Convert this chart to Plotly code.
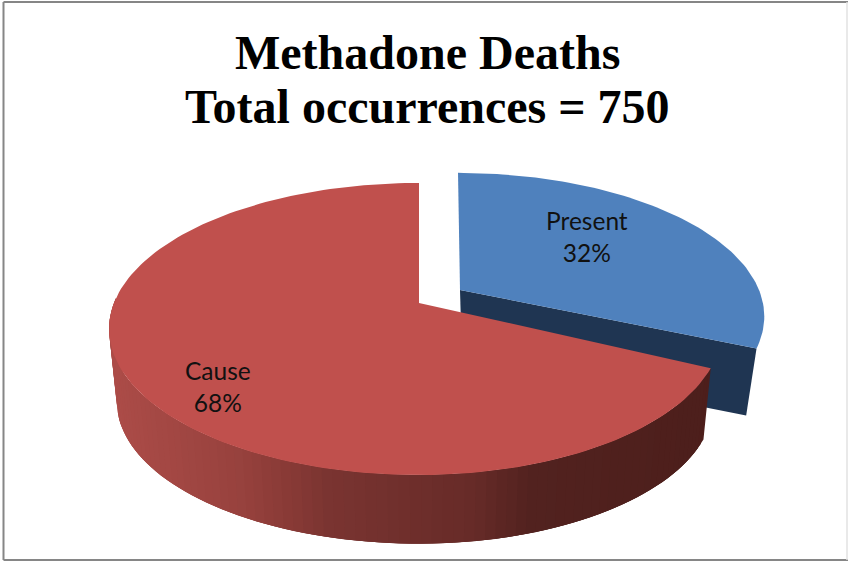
import math
import plotly.graph_objects as go

# --- data ---
categories = ["Present", "Cause"]
shares = [32, 68]
title_lines = ["Methadone Deaths", "Total occurrences = 750"]

# --- projection of the tilted 3-D disc onto the page ---
PERSP = 0.178
def project(theta, apex, Rl, Rr, a, shrink=1.0, drop=0.0, shear=0.0):
    t = math.radians(theta)
    X, Y = math.sin(t), math.cos(t)
    w = 1 + PERSP * Y
    R = Rr if X > 0 else Rl
    x = R * X / w
    y = -a * Y / w
    x += shear * y
    return apex[0] + shrink * x, apex[1] + shrink * y + drop

RED = dict(apex=(419, 303), Rl=305, Rr=298, a=141.4)
BLUE = dict(apex=(460, 290), Rl=299, Rr=299, a=138, shear=0.017)
RED_S, RED_D = 0.975, 73
BLUE_S, BLUE_D = 0.965, 69

split = 360 * shares[0] / sum(shares)
blue_end = split - 2  # the exploded wedge's corner sits slightly earlier in the projection

def steps(a0, a1, n):
    return [a0 + (a1 - a0) * i / n for i in range(n + 1)]

def mix(x):
    stops = [(118, (172, 76, 72)), (240, (152, 66, 62)), (290, (137, 58, 54)),
             (330, (122, 52, 49)), (470, (103, 43, 40)), (530, (82, 34, 31)), (720, (76, 30, 27))]
    for (x0, c0), (x1, c1) in zip(stops, stops[1:]):
        if x <= x1:
            f = max(0, (x - x0) / (x1 - x0))
            return "rgb(%d,%d,%d)" % tuple(round(p + (q - p) * f) for p, q in zip(c0, c1))
    return "rgb(76,30,27)"

fig = go.Figure()

def poly(pts, color):
    xs = [p[0] for p in pts] + [pts[0][0]]
    ys = [p[1] for p in pts] + [pts[0][1]]
    fig.add_trace(go.Scatter(x=xs, y=ys, mode="lines", fill="toself", fillcolor=color,
                             line=dict(color=color, width=0), hoverinfo="skip", showlegend=False))

NAVY = "rgb(31,53,82)"
# blue wedge: cut face
cut_top = project(blue_end, **BLUE)
cut_low = project(blue_end, **BLUE, shrink=BLUE_S, drop=BLUE_D)
bx, by = BLUE["apex"]
poly([(bx, by), cut_top, cut_low, (bx + 2, by + BLUE_D)], NAVY)
# blue top
poly([BLUE["apex"]] + [project(t, **BLUE) for t in steps(0, blue_end, 90)], "#4F81BD")

# red outer wall, drawn strip by strip for the shading; each strip overlaps the next
n = 90
arc = steps(split, 272, n)
for i in range(n):
    seg = arc[i:i + 4]
    poly([project(t, **RED) for t in seg] +
         [project(t, **RED, shrink=RED_S, drop=RED_D) for t in reversed(seg)],
         mix(project((arc[i] + arc[i + 1]) / 2, **RED, shrink=RED_S, drop=RED_D)[0]))
# red top
poly([RED["apex"]] + [project(t, **RED) for t in steps(split, 360, 160)], "#C0504D")

# labels
label_pos = [(587, 236), (218, 386)]
for name, v, (x, y) in zip(categories, shares, label_pos):
    fig.add_annotation(x=x, y=y, text=f"{name}<br>{v}%", showarrow=False,
                       font=dict(family="Lato", size=24.5, color="#111111"))

for line, y in zip(title_lines, (52, 106)):
    fig.add_annotation(x=427, y=y, text=line, showarrow=False,
                       font=dict(family="Liberation Serif", size=48, color="black", weight="bold"))

GREY = "#868686"
shapes = [
    dict(type="line", x0=3.5, y0=2, x1=848, y1=2, line=dict(color=GREY, width=2)),
    dict(type="line", x0=3.5, y0=2, x1=3.5, y1=560, line=dict(color=GREY, width=2)),
    dict(type="line", x0=3.5, y0=560, x1=848, y1=560, line=dict(color=GREY, width=2)),
    dict(type="line", x0=847, y0=2, x1=847, y1=560, line=dict(color="#E2E2E2", width=1.5)),
]

fig.update_layout(
    width=848, height=561, margin=dict(l=0, r=0, t=0, b=0),
    paper_bgcolor="white", plot_bgcolor="white", shapes=shapes,
    xaxis=dict(range=[0, 848], visible=False, fixedrange=True),
    yaxis=dict(range=[561, 0], visible=False, fixedrange=True),
)
fig.write_html("out.html", config={"displayModeBar": False},
               post_script="document.body.style.margin='0';document.body.style.overflow='hidden';")
